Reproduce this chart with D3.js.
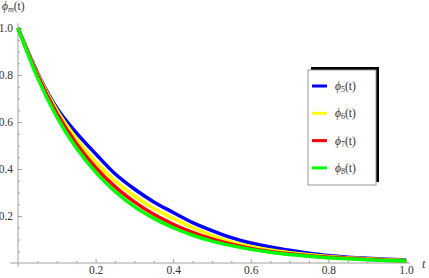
<!DOCTYPE html>
<html>
<head>
<meta charset="utf-8">
<script src="https://cdn.jsdelivr.net/npm/d3@7"></script>
<style>
  body { margin: 0; background: #fff; }
  svg { display: block; }
  .axis line { stroke: #a0a0a0; }
</style>
</head>
<body>
<div id="chart"></div>
<script>
// sample points of t
const tValues = [0, 0.05, 0.1, 0.15, 0.2, 0.25, 0.3, 0.35, 0.4, 0.45, 0.5,
                 0.55, 0.6, 0.65, 0.7, 0.75, 0.8, 0.85, 0.9, 0.95, 1.0];

// values
const phi5 = [1.0, 0.81, 0.66, 0.555, 0.465, 0.38, 0.315, 0.26, 0.215, 0.172, 0.138,
              0.108, 0.085, 0.068, 0.054, 0.042, 0.032, 0.025, 0.02, 0.016, 0.013];
const phi6 = [1.0, 0.805, 0.65, 0.53, 0.43, 0.35, 0.285, 0.232, 0.19, 0.151, 0.118,
              0.09, 0.07, 0.055, 0.044, 0.035, 0.028, 0.022, 0.018, 0.014, 0.011];
const phi7 = [1.0, 0.80, 0.638, 0.51, 0.407, 0.325, 0.26, 0.207, 0.165, 0.13, 0.102,
              0.08, 0.062, 0.049, 0.039, 0.031, 0.025, 0.02, 0.016, 0.012, 0.01];
const phi8 = [1.0, 0.79, 0.622, 0.49, 0.387, 0.305, 0.24, 0.19, 0.15, 0.118, 0.093,
              0.074, 0.058, 0.046, 0.036, 0.029, 0.022, 0.018, 0.014, 0.011, 0.009];

const seriesNames = ["5", "6", "7", "8"];
const seriesColors = ["#0000ff", "#ffff00", "#ff0000", "#00ff00"];
const seriesValues = [phi5, phi6, phi7, phi8];

const xTicks = [0.2, 0.4, 0.6, 0.8, 1.0];
const yTicks = [0.2, 0.4, 0.6, 0.8, 1.0];

const width = 429, height = 278;
const serif = "'Liberation Serif', 'Times New Roman', 'DejaVu Serif', serif";

const svg = d3.select("#chart").append("svg")
    .attr("width", width)
    .attr("height", height)
    .attr("font-family", serif);

const x = d3.scaleLinear().domain([0, 1]).range([18, 406]);
const y = d3.scaleLinear().domain([0, 1]).range([263, 28]);

// axis lines
svg.append("line")
    .attr("x1", x(-0.02)).attr("x2", x(1.01))
    .attr("y1", y(0)).attr("y2", y(0))
    .attr("stroke", "#a0a0a0");
svg.append("line")
    .attr("x1", x(0)).attr("x2", x(0))
    .attr("y1", y(-0.015)).attr("y2", y(1.02))
    .attr("stroke", "#a0a0a0");

// minor ticks
const minor = d3.range(0.05, 1.001, 0.05).filter(v => Math.abs(v * 5 - Math.round(v * 5)) > 1e-6);

svg.append("g")
    .attr("class", "axis")
    .attr("transform", `translate(0,${y(0)})`)
    .call(d3.axisBottom(x).tickValues(minor).tickSize(-2).tickFormat(""))
    .call(g => g.select(".domain").remove());

svg.append("g")
    .attr("class", "axis")
    .attr("transform", `translate(${x(0)},0)`)
    .call(d3.axisLeft(y).tickValues(minor).tickSize(-2).tickFormat(""))
    .call(g => g.select(".domain").remove());

// major ticks with labels
svg.append("g")
    .attr("class", "axis")
    .attr("transform", `translate(0,${y(0)})`)
    .call(d3.axisBottom(x).tickValues(xTicks).tickSize(-4).tickPadding(3).tickFormat(d3.format(".1f")))
    .call(g => g.select(".domain").remove())
    .call(g => g.attr("font-family", serif).attr("font-size", 11.5))
    .call(g => g.selectAll("text").attr("fill", "#333"));

svg.append("g")
    .attr("class", "axis")
    .attr("transform", `translate(${x(0)},0)`)
    .call(d3.axisLeft(y).tickValues(yTicks).tickSize(-4).tickPadding(5).tickFormat(d3.format(".1f")))
    .call(g => g.select(".domain").remove())
    .call(g => g.attr("font-family", serif).attr("font-size", 11.5))
    .call(g => g.selectAll("text").attr("fill", "#333"));

// curves
const line = d3.line()
    .x((d, i) => x(tValues[i]))
    .y(d => y(d))
    .curve(d3.curveMonotoneX);

seriesValues.forEach((vals, i) => {
    svg.append("path")
        .datum(vals)
        .attr("fill", "none")
        .attr("stroke", seriesColors[i])
        .attr("stroke-width", 3.5)
        .attr("d", line);
});

// axis labels
const yLab = svg.append("text")
    .attr("x", 2).attr("y", 10)
    .attr("font-size", 11.5).attr("fill", "#333");
yLab.append("tspan").attr("font-style", "italic").text("ϕ");
yLab.append("tspan").attr("font-style", "italic").attr("font-size", 8).attr("dy", 2).text("m");
yLab.append("tspan").attr("dy", -2).text("(t)");

svg.append("text")
    .attr("x", 422).attr("y", 268)
    .attr("font-size", 12).attr("font-style", "italic").attr("fill", "#333")
    .text("t");

// legend
const legend = svg.append("g").attr("transform", "translate(308,70)");
legend.append("rect")
    .attr("x", 3).attr("y", -3)
    .attr("width", 68).attr("height", 115)
    .attr("fill", "#000");
legend.append("rect")
    .attr("x", 0).attr("y", 0)
    .attr("width", 68).attr("height", 115)
    .attr("fill", "#fff")
    .attr("stroke", "#999");

seriesNames.forEach((n, i) => {
    const row = legend.append("g").attr("transform", `translate(0,${16 + i * 27.3})`);
    row.append("line")
        .attr("x1", 4).attr("x2", 19)
        .attr("stroke", seriesColors[i])
        .attr("stroke-width", 3);
    const t = row.append("text")
        .attr("x", 27).attr("y", 4)
        .attr("font-size", 11.5).attr("fill", "#333");
    t.append("tspan").attr("font-style", "italic").text("ϕ");
    t.append("tspan").attr("font-size", 8).attr("dy", 2).text(n);
    t.append("tspan").attr("dy", -2).text("(t)");
});
</script>
</body>
</html>
